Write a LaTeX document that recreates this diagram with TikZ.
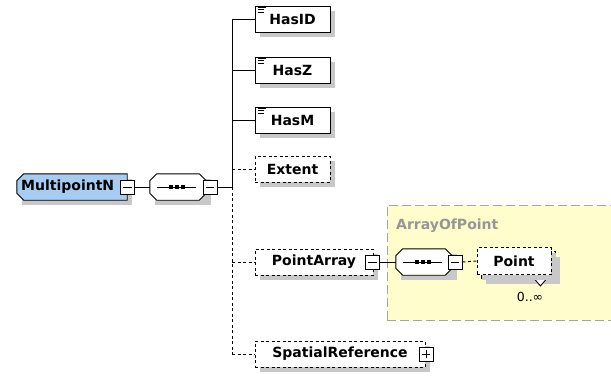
\documentclass[tikz,border=0pt]{standalone}
\usepackage{fontspec}
\setmainfont{DejaVu Sans}
\usetikzlibrary{shadows}
\definecolor{elblue}{RGB}{166,204,242}
\definecolor{shadowgray}{RGB}{200,200,200}
\definecolor{grpyellow}{RGB}{255,253,204}
\definecolor{grpborder}{RGB}{165,165,165}
\definecolor{grptext}{RGB}{150,150,150}
\newcommand\octshape[4]{% name, chamfer, fill, corners(all/left)
  \fill[shadowgray,transform canvas={xshift=5pt,yshift=-5pt}] (#1.north west) rectangle (#1.south east);
  \ifx#4a
  \filldraw[lw,fill=#3] ([xshift=#2]#1.north west) -- ([xshift=-#2]#1.north east) -- ([yshift=-#2]#1.north east)
    -- ([yshift=#2]#1.south east) -- ([xshift=-#2]#1.south east) -- ([xshift=#2]#1.south west)
    -- ([yshift=#2]#1.south west) -- ([yshift=-#2]#1.north west) -- cycle;
  \else
  \filldraw[lw,fill=#3] ([xshift=#2]#1.north west) -- (#1.north east)
    -- (#1.south east) -- ([xshift=#2]#1.south west)
    -- ([yshift=#2]#1.south west) -- ([yshift=-#2]#1.north west) -- cycle;
  \fi}
\begin{document}
\begin{tikzpicture}[x=1pt,y=-1pt,
  every node/.style={font=\fontsize{14}{16}\selectfont\bfseries},
  shad/.style={general shadow={fill=shadowgray,shadow xshift=5pt,shadow yshift=-5pt}},
  lw/.style={line width=0.9pt},
  dashline/.style={lw,dash pattern=on 3pt off 2.5pt},
  elem/.style={lw,draw,fill=white,minimum height=26pt,inner sep=0pt,shad},
  optelem/.style={elem,dash pattern=on 3pt off 2.5pt},
  togglebox/.style={lw,draw,fill=white,minimum size=14pt,inner sep=0pt},
  holder/.style={minimum height=26pt,inner sep=0pt},
]
\path[use as bounding box] (0,0) rectangle (611,378);
\clip (0,0) rectangle (611,378);

% group
\node[lw,draw=grpborder,fill=grpyellow,dash pattern=on 9pt off 4pt,minimum width=260pt,
  minimum height=115pt,inner sep=0pt,anchor=north west] (grp) at (387,205) {};
\node[anchor=west,text=grptext,inner sep=0pt] (grptitle) at (396,226) {ArrayOfPoint};

% root
\node[holder,minimum width=110pt] (root) at (72,187) {};
\octshape{root}{7pt}{elblue}{l}
\node[anchor=west,inner sep=0pt] (rootlabel) at (21,187) {MultipointN};
\node[togglebox] (t1) at (127.5,187) {};
\draw[lw] ([xshift=3pt]t1.west) -- ([xshift=-3pt]t1.east);

% sequence 1
\node[holder,minimum width=56pt] (seq1) at (178,187) {};
\octshape{seq1}{7pt}{white}{a}
\node[togglebox] (t2) at (210,187) {};
\draw[lw] ([xshift=3pt]t2.west) -- ([xshift=-3pt]t2.east);
\draw[lw] ([xshift=7pt]seq1.west) -- ([xshift=-10pt]seq1.east);
\foreach \d in {-7,-1,5} \fill ([xshift=\d pt]seq1.center) +(-1.8,-1.8) rectangle +(1.8,1.8);
\draw[lw] (t1.east) -- (seq1.west);
\coordinate (junc) at (232,187);
\draw[lw] (t2.east) -- (junc);

% children
\node[elem,minimum width=75pt] (hasid) at (292.5,19) {HasID};
\node[elem,minimum width=75pt] (hasz) at (292.5,70) {HasZ};
\node[elem,minimum width=75pt] (hasm) at (292.5,120) {HasM};
\node[optelem,minimum width=75pt] (extent) at (292.5,169) {Extent};
\node[optelem,minimum width=118pt] (parr) at (314,262) {PointArray};
\node[optelem,minimum width=170pt] (spref) at (340,354) {SpatialReference};
\foreach \n in {hasid,hasz,hasm}{
  \foreach \o/\l in {2/8,4.2/6,6.4/6}
    \draw[line width=0.8pt] ([shift={(3pt,-\o pt)}]\n.north west) -- ++(\l,0);
}
\draw[lw] (hasid.west -| junc) -- (junc);
\draw[dashline] (junc) -- (spref.west -| junc);
\foreach \n in {hasid,hasz,hasm} \draw[lw] (\n.west -| junc) -- (\n.west);
\foreach \n in {extent,parr,spref} \draw[dashline] (\n.west -| junc) -- (\n.west);

\node[togglebox] (t3) at (372.5,262) {};
\draw[lw] ([xshift=3pt]t3.west) -- ([xshift=-3pt]t3.east);
\node[togglebox] (t4) at (426,354) {};
\draw[lw] ([xshift=3pt]t4.west) -- ([xshift=-3pt]t4.east);
\draw[lw] ([yshift=3pt]t4.south) -- ([yshift=-3pt]t4.north);

% sequence 2
\node[holder,minimum width=56pt] (seq2) at (424,262) {};
\octshape{seq2}{7pt}{white}{a}
\node[togglebox] (t5) at (455,262) {};
\draw[lw] ([xshift=3pt]t5.west) -- ([xshift=-3pt]t5.east);
\draw[lw] ([xshift=7pt]seq2.west) -- ([xshift=-10pt]seq2.east);
\foreach \d in {-7,-1,5} \fill ([xshift=\d pt]seq2.center) +(-1.8,-1.8) rectangle +(1.8,1.8);
\draw[lw] (t3.east) -- (seq2.west);

% Point (multiple occurrence)
\node[optelem,minimum width=74pt,minimum height=27pt] (pointback) at (518,265) {};
\draw[lw,fill=white] ([xshift=-9pt]pointback.south east) -- ++(-6,7) -- ++(-6,-7);
\node[optelem,minimum width=74pt,minimum height=27pt,general shadow={fill=none}] (point) at (514,261) {Point};
\draw[dashline] (t5.east) -- (point.west);
\node[font=\fontsize{12.5}{14}\selectfont,inner sep=0pt] (occ) at (530,297) {0..∞};
\end{tikzpicture}
\end{document}
